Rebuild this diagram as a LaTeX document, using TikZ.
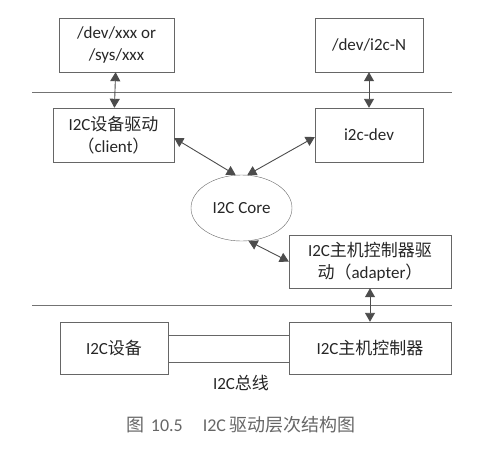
\documentclass[tikz,border=0pt]{standalone}
\usepackage{fontspec}
\setmainfont{Carlito}
\newfontfamily\cjk{Noto Sans CJK SC}
\usetikzlibrary{arrows.meta, positioning, shapes}
\tikzset{%
  box/.style={draw=black!60, thin, align=center, inner sep=0pt,
    font=\fontsize{17}{22}\selectfont, text=black!85}, % every rectangle
  core/.style={ellipse, draw=black!60, thin, inner sep=0pt,
    font=\fontsize{17}{20}\selectfont, text=black!85},
  link/.style={draw=black!70, line width=0.9pt,
    {Triangle[length=9pt,width=10pt]}-{Triangle[length=9pt,width=10pt]}},
  layer/.style={draw=black!55, thin},
  bus/.style={draw=black!60, thin}
}

\begin{document}
\begin{tikzpicture}[x=1pt, y=-1pt]
    \useasboundingbox (0,0) rectangle (478,448);

    % user space
    \node[box, minimum width=115pt, minimum height=54pt] (devxxx) at (116.5,45) {/dev/xxx or\\/sys/xxx};
    \node[box, minimum width=108pt, minimum height=54pt] (devi2c) at (369,45) {/dev/i2c-N};

    \draw[layer] (32,92) coordinate (top l) -- (452,92) coordinate (top r);

    % kernel
    \node[box, minimum width=121pt, minimum height=54pt] (client) at (113.5,135) {I2C{\cjk 设备驱动}\\{\cjk （}client{\cjk ）}};
    \node[box, minimum width=108pt, minimum height=54pt] (i2cdev) at (369,135) {i2c-dev};
    \node[core, minimum width=101pt, minimum height=66pt] (i2ccore) at (241.5,208) {I2C Core};
    \node[box, minimum width=162pt, minimum height=53pt] (adapter) at (370,261.5) {I2C{\cjk 主机控制器驱}\\{\cjk 动（}adapter{\cjk ）}};

    \draw[layer] (32,305) coordinate (bot l) -- (452,305) coordinate (bot r);

    % hardware
    \node[box, minimum width=108pt, minimum height=52pt] (device) at (114,348) {I2C{\cjk 设备}};
    \node[box, minimum width=162pt, minimum height=52pt] (ctrl) at (370,348) {I2C{\cjk 主机控制器}};
    \node[font=\fontsize{17}{20}\selectfont, text=black!85] (buslabel) at (241,383) {I2C{\cjk 总线}};

    \draw[link] (devxxx) -- (client);
    \draw[link] (devi2c) -- (i2cdev);
    \draw[link] ([yshift=-3pt]client.east) -- (i2ccore.100);
    \draw[link] ([yshift=-2pt]i2cdev.west) -- (i2ccore.80);
    \draw[link] (i2ccore.-78) -- (adapter.west);
    \draw[link] (adapter) -- (ctrl);
    \draw[bus] ([yshift=13pt]device.east) -- ([yshift=13pt]ctrl.west);
    \draw[bus] ([yshift=-14pt]device.east) -- ([yshift=-14pt]ctrl.west);

    \node[font=\fontsize{18}{20}\selectfont, text=black!60] (caption) at (241,425) {{\cjk 图}\,\,10.5\hspace{20pt}I2C\,{\cjk 驱动层次结构图}};
\end{tikzpicture}
\end{document}
